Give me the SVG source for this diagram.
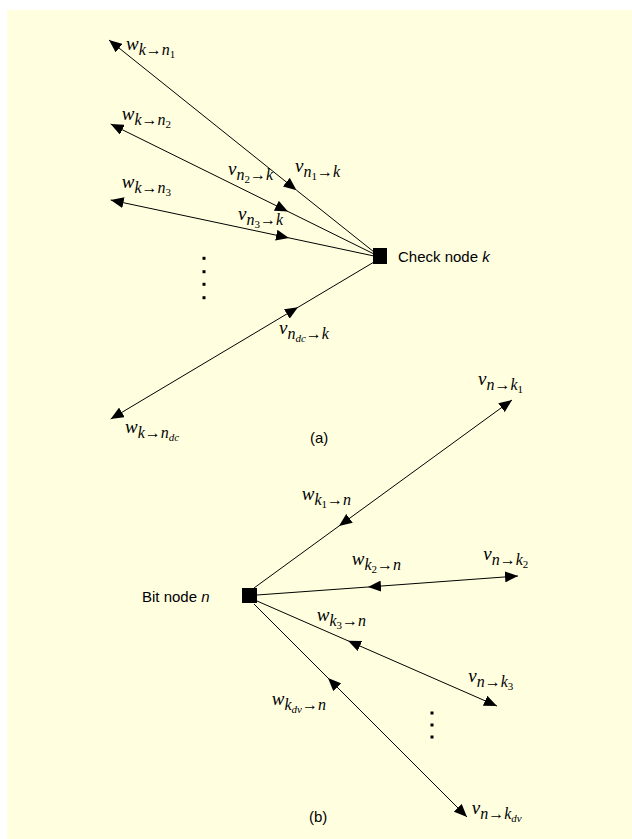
<svg xmlns="http://www.w3.org/2000/svg" width="632" height="839" viewBox="0 0 632 839">
  <defs>
    <style>
      .bg { fill: #FFFFE0; }
      .ln { fill: none; stroke: #000; stroke-width: 1; marker-mid: url(#headBack); marker-end: url(#head); }
      .node { fill: #000; }
      .dot { fill: #000; }
      .m { font-family: "Liberation Serif", "Times New Roman", serif; font-style: italic; font-size: 19px; fill: #000; }
      .s { font-size: 16px; }
      .ss { font-size: 11px; }
      .up { font-style: normal; }
      .lbl { font-family: "Liberation Sans", Arial, sans-serif; font-size: 15px; fill: #000; }
    </style>
    <!-- filled arrowhead pointing along the path -->
    <marker id="head" markerUnits="userSpaceOnUse" markerWidth="13" markerHeight="11" viewBox="0 0 13 11" refX="13" refY="5.5" orient="auto">
      <path d="M0,0 L13,5.5 L0,11 z" fill="#000"/>
    </marker>
    <!-- filled arrowhead pointing back toward the node -->
    <marker id="headBack" markerUnits="userSpaceOnUse" markerWidth="13" markerHeight="11" viewBox="0 0 13 11" refX="0" refY="5.5" orient="auto">
      <path d="M13,0 L0,5.5 L13,11 z" fill="#000"/>
    </marker>
  </defs>

  <rect class="bg" x="7" y="10" width="625" height="829"/>

  <g id="connectors">
    <!-- (a) check node k: w leaves towards bit nodes, v arrives at k -->
    <path id="a-n1" class="ln" d="M374,252 L296.5,190.2 L109,40"/>
    <path id="a-n2" class="ln" d="M374,254 L288,211.5 L110.7,124"/>
    <path id="a-n3" class="ln" d="M374,256 L289,237.9 L110.7,200"/>
    <path id="a-ndc" class="ln" d="M374,262 L298,307.3 L110.7,419"/>
    <!-- (b) bit node n: v leaves towards check nodes, w arrives at n -->
    <path id="b-k1" class="ln" d="M254,588 L339,526 L512,400"/>
    <path id="b-k2" class="ln" d="M257,595 L368,587 L518,576"/>
    <path id="b-k3" class="ln" d="M257,601 L348,640.8 L497,706"/>
    <path id="b-kdv" class="ln" d="M254,604 L328,678 L467,817"/>
  </g>

  <g id="check-node-k">
    <rect class="node" x="373" y="248" width="14" height="16"/>
    <text class="lbl" x="398" y="262">Check node <tspan font-style="italic">k</tspan></text>
  </g>

  <g id="bit-node-n">
    <rect class="node" x="242" y="588" width="15" height="15"/>
    <text class="lbl" x="142" y="602">Bit node <tspan font-style="italic">n</tspan></text>
  </g>

  <g id="edge-labels-a">
    <text class="m" x="126" y="50">w<tspan class="s" dy="5">k</tspan><tspan class="s up">→</tspan><tspan class="s">n</tspan><tspan class="ss up" dy="3">1</tspan></text>
    <text class="m" x="121.7" y="120">w<tspan class="s" dy="5">k</tspan><tspan class="s up">→</tspan><tspan class="s">n</tspan><tspan class="ss up" dy="3">2</tspan></text>
    <text class="m" x="121.7" y="188">w<tspan class="s" dy="5">k</tspan><tspan class="s up">→</tspan><tspan class="s">n</tspan><tspan class="ss up" dy="3">3</tspan></text>
    <text class="m" x="125" y="433">w<tspan class="s" dy="5">k</tspan><tspan class="s up">→</tspan><tspan class="s">n</tspan><tspan class="ss" dy="3">dc</tspan></text>
    <text class="m" x="295" y="172">v<tspan class="s" dy="5">n</tspan><tspan class="ss up" dy="3">1</tspan><tspan class="s up" dy="-3">→</tspan><tspan class="s">k</tspan></text>
    <text class="m" x="228" y="175">v<tspan class="s" dy="5">n</tspan><tspan class="ss up" dy="3">2</tspan><tspan class="s up" dy="-3">→</tspan><tspan class="s">k</tspan></text>
    <text class="m" x="238" y="220">v<tspan class="s" dy="5">n</tspan><tspan class="ss up" dy="3">3</tspan><tspan class="s up" dy="-3">→</tspan><tspan class="s">k</tspan></text>
    <text class="m" x="279" y="334">v<tspan class="s" dy="5">n</tspan><tspan class="ss" dy="3">dc</tspan><tspan class="s up" dy="-3">→</tspan><tspan class="s">k</tspan></text>
    <rect class="dot" x="202.5" y="256.8" width="3" height="3"/>
    <rect class="dot" x="202.5" y="270.2" width="3" height="3"/>
    <rect class="dot" x="202.5" y="282.8" width="3" height="3"/>
    <rect class="dot" x="202.5" y="296.2" width="3" height="3"/>
    <text class="lbl" x="310" y="443">(a)</text>
  </g>

  <g id="edge-labels-b">
    <text class="m" x="478" y="385">v<tspan class="s" dy="5">n</tspan><tspan class="s up">→</tspan><tspan class="s">k</tspan><tspan class="ss up" dy="3">1</tspan></text>
    <text class="m" x="483.3" y="560">v<tspan class="s" dy="5">n</tspan><tspan class="s up">→</tspan><tspan class="s">k</tspan><tspan class="ss up" dy="3">2</tspan></text>
    <text class="m" x="468.3" y="681.7">v<tspan class="s" dy="5">n</tspan><tspan class="s up">→</tspan><tspan class="s">k</tspan><tspan class="ss up" dy="3">3</tspan></text>
    <text class="m" x="471.7" y="814.3">v<tspan class="s" dy="5">n</tspan><tspan class="s up">→</tspan><tspan class="s">k</tspan><tspan class="ss" dy="3">dv</tspan></text>
    <text class="m" x="301.7" y="500">w<tspan class="s" dy="5">k</tspan><tspan class="ss up" dy="3">1</tspan><tspan class="s up" dy="-3">→</tspan><tspan class="s">n</tspan></text>
    <text class="m" x="351.7" y="565">w<tspan class="s" dy="5">k</tspan><tspan class="ss up" dy="3">2</tspan><tspan class="s up" dy="-3">→</tspan><tspan class="s">n</tspan></text>
    <text class="m" x="316.7" y="620.7">w<tspan class="s" dy="5">k</tspan><tspan class="ss up" dy="3">3</tspan><tspan class="s up" dy="-3">→</tspan><tspan class="s">n</tspan></text>
    <text class="m" x="271.7" y="705">w<tspan class="s" dy="5">k</tspan><tspan class="ss" dy="3">dv</tspan><tspan class="s up" dy="-3">→</tspan><tspan class="s">n</tspan></text>
    <rect class="dot" x="430.5" y="711.5" width="3" height="3"/>
    <rect class="dot" x="430.5" y="723.5" width="3" height="3"/>
    <rect class="dot" x="430.5" y="735.5" width="3" height="3"/>
    <text class="lbl" x="309" y="822">(b)</text>
  </g>
</svg>
